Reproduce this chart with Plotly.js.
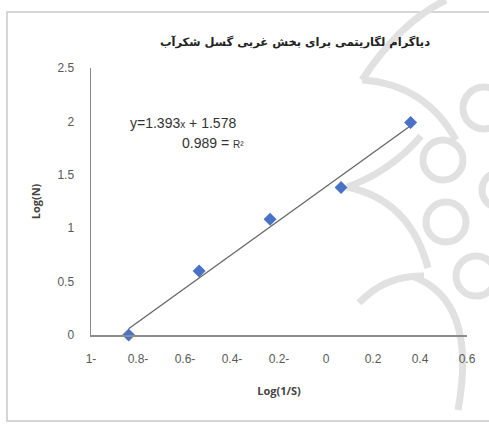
<!DOCTYPE html>
<html>
<head>
<meta charset="utf-8">
<script src="https://cdn.plot.ly/plotly-3.0.1.min.js"></script>
<style>
  html, body { margin: 0; padding: 0; background: #ffffff; }
  #chart { width: 489px; height: 426px; }
</style>
</head>
<body>
<div id="chart"></div>
<script>
// Measured points: log of inverse distance vs. log of cumulative count
const logInvS = [-0.84, -0.54, -0.238, 0.064, 0.36];
const logN = [0.0, 0.60, 1.083, 1.38, 1.99];

// Axis tick labels (negative numbers written right-to-left)
const xTickVals = [-1, -0.8, -0.6, -0.4, -0.2, 0, 0.2, 0.4, 0.6];
const xTickText = ['1-', '0.8-', '0.6-', '0.4-', '0.2-', '0', '0.2', '0.4', '0.6'];
const yTickVals = [0, 0.5, 1, 1.5, 2, 2.5];
const yTickText = ['0', '0.5', '1', '1.5', '2', '2.5'];

const chartTitle = 'دیاگرام لگاریتمی برای بخش غربی گسل شکرآب';
const eqText = 'y=1.393<span style="font-size:10px">x</span> + 1.578';
const r2Text = '0.989 = <span style="font-size:10px">R²</span>';

// Least-squares trend line through the measured points
function linearFit(xs, ys) {
  const n = xs.length;
  const mx = xs.reduce((a, b) => a + b, 0) / n;
  const my = ys.reduce((a, b) => a + b, 0) / n;
  let sxy = 0, sxx = 0;
  for (let i = 0; i < n; i++) {
    sxy += (xs[i] - mx) * (ys[i] - my);
    sxx += (xs[i] - mx) * (xs[i] - mx);
  }
  const m = sxy / sxx;
  return { m: m, b: my - m * mx };
}
const fit = linearFit(logInvS, logN);
const xLo = Math.min(...logInvS), xHi = Math.max(...logInvS);
const trendX = [xLo, xHi];
const trendY = trendX.map(x => fit.m * x + fit.b);

const traces = [
  {
    x: trendX, y: trendY, type: 'scatter', mode: 'lines',
    line: { color: '#666666', width: 1.3 }, hoverinfo: 'skip', showlegend: false
  },
  {
    x: logInvS, y: logN, type: 'scatter', mode: 'markers',
    marker: { symbol: 'diamond', size: 10, color: '#4a72c4', line: { width: 0 } },
    cliponaxis: false, showlegend: false
  }
];

// Page geometry, used to place the decorative background in paper units
const W = 489, H = 426, ML = 91, MR = 22, MT = 68, MB = 91;
const PW = W - ML - MR, PH = H - MT - MB;
const px = (x) => (x - ML) / PW;
const py = (y) => (H - MB - y) / PH;
const pt = (x, y) => px(x).toFixed(4) + ',' + py(y).toFixed(4);

// Faint rosette emblem in the background: rings and cusped arcs
const embColor = '#e1e1e1';
const rings = [
  [443, 160, 20], [446, 222, 20], [484, 108, 21], [476, 276, 20], [500, 190, 18]
];
const arcs = [
  [[446, 0], [400, 22], [362, 80]],
  [[362, 80], [425, 84], [456, 140]],
  [[347, 187], [390, 172], [421, 136]],
  [[347, 187], [410, 200], [428, 268]],
  [[359, 303], [385, 275], [424, 276]],
  [[412, 276], [478, 300], [458, 410]]
];
const shapes = [
  // outer frame
  { type: 'rect', xref: 'paper', yref: 'paper', layer: 'below',
    x0: px(7), x1: px(495), y0: py(421), y1: py(12),
    line: { color: '#c9c9c9', width: 1.5 } }
];
rings.forEach(r => {
  shapes.push({ type: 'circle', xref: 'paper', yref: 'paper', layer: 'below',
    x0: px(r[0] - r[2]), x1: px(r[0] + r[2]), y0: py(r[1] + r[2]), y1: py(r[1] - r[2]),
    line: { color: embColor, width: 7 } });
});
arcs.forEach(a => {
  shapes.push({ type: 'path', xref: 'paper', yref: 'paper', layer: 'below',
    path: 'M' + pt(a[0][0], a[0][1]) + ' Q' + pt(a[1][0], a[1][1]) + ' ' + pt(a[2][0], a[2][1]),
    line: { color: embColor, width: 7 } });
});

const axisFont = { family: 'Liberation Sans, Arial, sans-serif', size: 12, color: '#595959' };

const layout = {
  width: W, height: H,
  margin: { l: ML, r: MR, t: MT, b: MB },
  paper_bgcolor: '#ffffff', plot_bgcolor: 'rgba(0,0,0,0)',
  title: {
    text: '<b>' + chartTitle + '</b>',
    font: { family: 'DejaVu Sans, Noto Sans, sans-serif', size: 11.5, color: '#222222' },
    x: 295 / W, xanchor: 'center', y: 1 - 42 / H, yanchor: 'middle'
  },
  xaxis: {
    range: [-1, 0.6], tickvals: xTickVals, ticktext: xTickText,
    showgrid: false, zeroline: false, showline: true, linecolor: '#8c8c8c', linewidth: 1.5,
    ticks: 'outside', ticklen: 12, tickcolor: 'rgba(0,0,0,0)', tickfont: axisFont,
    title: { text: '<b>Log(1/S)</b>', font: { family: 'Open Sans, sans-serif', size: 11, color: '#444444' }, standoff: 22 }
  },
  yaxis: {
    range: [0, 2.5], tickvals: yTickVals, ticktext: yTickText,
    showgrid: false, zeroline: false, showline: true, linecolor: '#8c8c8c', linewidth: 1.5,
    ticks: 'outside', ticklen: 13, tickcolor: 'rgba(0,0,0,0)', tickfont: axisFont,
    title: { text: '<b>Log(N)</b>', font: { family: 'Open Sans, sans-serif', size: 11, color: '#444444' }, standoff: 14 }
  },
  shapes: shapes,
  annotations: [
    { xref: 'paper', yref: 'paper', x: px(238), y: py(123),
      xanchor: 'right', yanchor: 'middle', showarrow: false, text: eqText,
      font: { family: 'Liberation Sans Narrow, Liberation Sans, Arial, sans-serif', size: 14, color: '#333333' } },
    { xref: 'paper', yref: 'paper', x: px(246), y: py(143),
      xanchor: 'right', yanchor: 'middle', showarrow: false, text: r2Text,
      font: { family: 'Liberation Sans Narrow, Liberation Sans, Arial, sans-serif', size: 14, color: '#333333' } }
  ],
  showlegend: false
};

Plotly.newPlot('chart', traces, layout, { displayModeBar: false, staticPlot: true });
</script>
</body>
</html>
